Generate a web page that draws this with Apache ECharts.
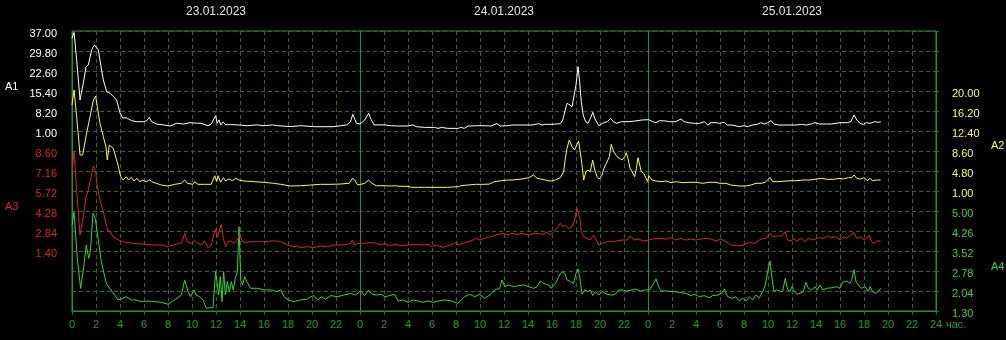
<!DOCTYPE html>
<html><head><meta charset="utf-8">
<script src="https://cdn.jsdelivr.net/npm/echarts@6/dist/echarts.min.js"></script>
<style>html,body{margin:0;padding:0;background:#000;}#c{width:1006px;height:340px;}</style>
</head><body><div id="c"></div>
<script>
// Time in hours from 23.01.2023 00:00
const dates = ['23.01.2023', '24.01.2023', '25.01.2023'];
const seriesNames = ['A1', 'A2', 'A3', 'A4'];

const a1 = [[0,34.4],[0.17,36.5],[0.39,26.6],[0.67,12.2],[0.94,18.2],[1.17,24.1],[1.36,24.8],[1.64,30.2],[1.86,32.0],[2.0,32.6],[2.19,30.2],[2.42,24.1],[2.61,19.4],[2.89,15.1],[3.17,14.6],[3.44,13.4],[3.72,12.2],[4.0,7.5],[4.22,5.7],[4.56,5.7],[4.97,4.7],[5.39,4.35],[5.94,4.35],[6.22,4.7],[6.44,5.9],[6.64,4.35],[7.06,3.5],[7.61,3.2],[8.17,2.8],[8.72,3.8],[9.28,3.5],[9.83,4.0],[10.4,3.8],[10.75,3.8],[11.33,2.9],[11.6,3.5],[11.97,6.5],[12.1,3.8],[12.25,5.0],[12.4,3.2],[12.6,4.3],[12.8,3.2],[13.2,3.3],[13.8,3.2],[14.6,2.9],[15.4,3.2],[16.0,2.9],[16.7,3.2],[16.85,3.8],[17.1,2.9],[18.2,2.6],[19.1,2.9],[20.2,2.55],[21,2.55],[21.8,2.55],[22.4,2.9],[22.9,3.2],[23.2,4.3],[23.4,7.0],[23.7,3.8],[24.0,3.5],[24.1,3.8],[24.4,5.0],[24.72,7.4],[24.94,5.0],[25.17,3.2],[25.5,3.2],[26.06,3.2],[26.6,2.9],[27.2,2.8],[28,2.8],[28.4,3.2],[28.7,2.55],[29.4,2.3],[30.2,2.3],[30.5,1.95],[30.8,2.3],[31.3,1.95],[32.2,1.95],[32.4,2.3],[32.7,1.95],[33,2.8],[33.8,2.9],[34.4,2.9],[34.9,2.8],[35.4,3.65],[35.7,2.8],[36.3,2.9],[36.67,3.16],[37.5,3.16],[38.33,3.16],[38.9,3.64],[39.17,3.16],[39.44,3.4],[40,3.4],[40.7,3.64],[40.9,4.96],[41.1,8.56],[41.25,10.96],[41.5,10.36],[41.67,9.76],[42,17.56],[42.17,24.16],[42.3,18.76],[42.44,11.56],[42.6,6.76],[42.8,4.36],[43,3.76],[43.2,5.56],[43.4,7.72],[43.56,5.56],[43.9,2.92],[44.2,3.76],[44.6,4.36],[44.9,5.56],[45.1,4.36],[45.4,3.76],[45.8,4.36],[46.4,4.36],[46.9,4.6],[47.5,4.96],[48.06,5.08],[48.1,5.2],[48.4,4.36],[48.67,4.0],[48.94,4.72],[49.5,4.6],[49.8,4.36],[50.3,4.36],[50.75,5.32],[51,4.36],[51.4,4.0],[51.86,3.76],[52.3,3.76],[52.7,4.36],[52.97,3.16],[53.25,4.0],[53.67,4.0],[53.9,3.76],[54.36,4.12],[54.6,3.16],[55,3.16],[55.6,2.56],[56,2.92],[56.3,2.56],[56.7,3.16],[57.1,3.4],[57.4,4.0],[57.7,3.52],[57.97,4.0],[58.25,4.72],[58.5,3.52],[58.9,3.16],[60.3,3.16],[60.8,3.4],[61.2,3.16],[61.6,3.52],[61.9,4.0],[62.3,3.52],[62.9,3.52],[63.3,3.52],[64,4.0],[64.6,4.0],[64.9,4.36],[65.17,6.76],[65.4,4.96],[65.67,3.76],[65.94,3.4],[66.2,4.0],[66.5,3.76],[66.9,4.36],[67.2,4.12],[67.4,4.36]];

const a2 = [[0,17.34],[0.17,20.2],[0.39,15.1],[0.67,7.84],[0.89,7.84],[1.22,12.0],[1.5,15.1],[1.78,18.3],[1.97,19.05],[2.11,17.0],[2.33,13.86],[2.61,11.3],[2.83,9.4],[2.94,6.9],[3.11,9.74],[3.25,9.74],[3.44,9.1],[3.56,8.16],[3.83,5.94],[4.06,3.72],[4.25,3.09],[4.53,3.72],[4.72,3.09],[4.94,3.6],[5.17,2.9],[5.42,3.41],[5.64,2.77],[5.92,3.09],[6.19,2.77],[6.47,3.09],[6.75,2.65],[7.03,2.46],[7.44,2.14],[8.0,1.95],[8.56,2.27],[9.11,2.46],[9.39,3.09],[9.61,2.46],[10.08,2.27],[10.22,2.77],[10.5,2.27],[11.06,2.27],[11.6,2.27],[11.9,3.9],[12.05,2.8],[12.17,3.9],[12.39,2.65],[12.61,3.53],[12.8,2.9],[13.08,3.28],[13.36,2.96],[13.64,3.41],[13.9,3.09],[14.33,2.9],[15.17,2.77],[16,2.65],[16.8,2.46],[17.4,2.27],[18.2,1.95],[19.06,2.0],[19.9,2.14],[20.7,2.27],[21.6,2.27],[22.4,2.33],[23.1,2.46],[23.36,3.41],[23.56,3.09],[23.8,2.14],[24.06,2.27],[24.4,2.46],[24.72,3.09],[25,2.46],[25.36,2.0],[26.06,2.0],[26.6,1.95],[26.9,2.0],[27.4,1.89],[28,1.89],[28.3,1.7],[28.8,1.7],[29.4,1.7],[30.5,1.7],[31.3,1.7],[32.2,1.82],[32.4,2.0],[33,2.14],[33.6,2.27],[34.4,2.27],[34.8,2.33],[35.2,2.77],[35.8,2.96],[36.33,3.09],[36.67,3.09],[37.5,3.28],[38.06,3.53],[38.47,4.04],[38.75,3.41],[39.03,3.28],[39.44,3.09],[39.86,2.9],[40.28,3.09],[40.69,3.53],[40.97,4.67],[41.11,7.21],[41.25,9.11],[41.44,10.69],[41.67,9.42],[41.89,8.79],[42.06,9.74],[42.22,10.5],[42.39,7.84],[42.5,5.94],[42.64,3.09],[42.83,4.67],[43,4.99],[43.19,4.67],[43.39,6.89],[43.56,4.99],[43.75,3.72],[43.94,3.28],[44.17,4.04],[44.33,5.31],[44.53,6.26],[44.67,5.94],[44.78,7.52],[44.94,9.87],[45.14,8.47],[45.42,7.52],[45.83,6.89],[46.06,7.52],[46.19,8.28],[46.33,7.21],[46.5,5.31],[46.67,4.67],[46.89,3.72],[47.03,5.31],[47.17,7.33],[47.31,5.94],[47.44,4.67],[47.64,4.36],[47.78,4.04],[47.97,2.77],[48.06,3.91],[48.33,3.09],[48.67,2.9],[49.08,2.77],[49.5,2.9],[49.92,2.58],[50.33,2.77],[50.89,2.58],[51.44,2.65],[52,2.65],[52.56,2.46],[53.1,2.65],[53.67,2.65],[53.94,2.46],[54.5,2.46],[54.9,2.14],[55.6,1.95],[56.17,1.95],[56.58,2.14],[57,2.46],[57.42,2.46],[57.78,2.65],[57.97,3.09],[58.17,3.6],[58.39,2.77],[58.8,2.77],[59.5,2.9],[60.33,2.96],[60.94,3.09],[61.5,3.09],[62.06,3.28],[62.47,3.41],[62.89,3.22],[63.44,3.22],[64,3.41],[64.28,3.28],[64.69,3.53],[64.97,3.53],[65.17,4.04],[65.39,3.41],[65.72,3.28],[66,3.53],[66.28,2.96],[66.5,3.41],[66.72,2.96],[67.06,3.09],[67.39,3.09]];

const a3 = [[0,7.11],[0.17,8.55],[0.39,5.79],[0.67,2.55],[0.94,3.87],[1.17,5.31],[1.36,5.79],[1.64,6.99],[1.78,7.52],[1.97,7.11],[2.11,6.03],[2.33,5.07],[2.61,4.23],[2.83,3.39],[2.97,2.91],[3.17,2.79],[3.44,2.43],[3.86,2.19],[4.28,2.07],[5.1,1.95],[5.94,1.9],[6.78,1.83],[7.6,1.83],[7.9,1.71],[8.44,1.83],[9.14,2.0],[9.39,2.67],[9.61,2.07],[9.94,1.95],[10.22,2.19],[10.5,1.95],[10.78,1.83],[11.06,2.12],[11.33,1.64],[11.61,1.83],[11.83,2.67],[11.97,2.98],[12.1,2.4],[12.17,2.31],[12.33,3.03],[12.44,3.32],[12.61,2.31],[12.8,1.71],[13,2.07],[13.22,2.12],[13.5,1.95],[13.78,2.19],[14,2.6],[14.19,2.07],[14.47,2.02],[14.89,2.07],[15.44,2.07],[16,2.07],[16.56,2.12],[17.1,2.12],[17.39,2.07],[17.67,1.95],[17.94,1.83],[18.5,1.71],[18.78,1.76],[19.06,1.64],[19.6,1.71],[20.17,1.64],[20.7,1.76],[21.28,1.71],[21.83,1.83],[22.39,1.83],[22.94,1.88],[23.22,1.95],[23.36,2.19],[23.56,1.83],[23.78,1.95],[24.06,1.95],[24.39,1.95],[24.94,2.02],[25.36,1.95],[25.78,1.83],[26.06,1.95],[26.47,1.76],[26.89,1.88],[27.44,1.78],[28,1.83],[28.56,1.88],[29.1,1.83],[29.67,1.88],[29.94,1.71],[30.36,1.83],[30.92,1.66],[31.33,1.78],[31.75,1.88],[32.03,2.07],[32.17,1.83],[32.58,1.95],[33,2.07],[33.42,2.19],[33.7,2.31],[33.97,2.19],[34.39,2.31],[34.94,2.43],[35.5,2.6],[36.06,2.67],[36.25,2.55],[36.67,2.67],[37.08,2.6],[37.5,2.67],[38.06,2.55],[38.61,2.67],[39.17,2.6],[39.58,2.74],[39.86,2.55],[40.14,2.79],[40.42,3.03],[40.69,3.39],[40.89,3.15],[41.11,3.27],[41.39,3.03],[41.67,3.15],[41.89,3.63],[42.08,4.47],[42.22,4.52],[42.33,3.75],[42.44,2.79],[42.64,2.43],[42.92,2.31],[43.19,2.19],[43.47,2.55],[43.67,2.19],[43.89,1.83],[44.17,1.95],[44.58,2.07],[45,2.07],[45.42,2.12],[45.83,2.19],[46.25,2.19],[46.53,2.5],[46.81,2.19],[47.22,2.26],[47.64,2.12],[48.06,2.19],[48.39,2.26],[48.94,2.31],[49.5,2.26],[49.92,2.36],[50.33,2.19],[50.75,2.31],[51.17,2.19],[51.58,2.26],[52,2.19],[52.42,2.26],[52.83,2.31],[53.25,2.26],[53.67,2.12],[54.08,2.26],[54.5,2.07],[54.92,1.83],[55.33,1.78],[55.75,1.78],[56.03,1.88],[56.44,2.02],[56.86,1.95],[57.28,2.19],[57.56,2.31],[57.83,2.31],[58.17,2.67],[58.39,2.43],[58.81,2.5],[59.08,2.43],[59.44,2.79],[59.64,2.19],[59.92,2.12],[60.1,2.31],[60.39,2.12],[60.8,2.31],[61.08,2.07],[61.36,2.31],[61.78,2.19],[62.2,2.36],[62.6,2.31],[63.03,2.5],[63.3,2.36],[63.72,2.43],[64,2.19],[64.28,2.43],[64.56,2.31],[64.89,2.55],[65.17,2.74],[65.39,2.31],[65.67,2.43],[66,2.19],[66.22,2.31],[66.44,2.55],[66.64,2.07],[66.83,1.95],[67.1,2.12],[67.39,2.12]];

const a4 = [[0,4.48],[0.17,4.95],[0.44,3.25],[0.72,2.14],[1.0,3.0],[1.19,3.74],[1.39,3.25],[1.53,3.5],[1.75,4.91],[1.94,4.73],[2.17,3.99],[2.44,3.13],[2.86,2.32],[3.14,2.14],[3.56,1.89],[3.83,1.71],[4.11,1.74],[4.53,1.83],[4.94,1.71],[5.22,1.71],[5.78,1.65],[6.33,1.67],[6.89,1.65],[7.44,1.62],[8.0,1.55],[8.56,1.71],[9.11,1.89],[9.39,2.45],[9.67,2.02],[9.89,1.83],[10.17,2.08],[10.36,1.89],[10.64,1.83],[10.92,1.71],[11.19,1.4],[11.47,1.42],[11.75,1.42],[11.97,2.76],[12.08,2.69],[12.22,1.89],[12.36,2.57],[12.5,1.65],[12.64,2.76],[12.78,1.89],[12.94,2.39],[13.11,2.02],[13.28,2.39],[13.44,2.08],[13.61,2.51],[13.78,2.76],[13.92,4.42],[14.06,2.45],[14.22,2.26],[14.39,2.57],[14.56,2.39],[14.89,2.14],[15.44,2.14],[16,2.08],[16.56,2.08],[17.1,2.02],[17.39,2.08],[17.67,1.83],[18,1.71],[18.5,1.65],[19.06,1.71],[19.6,1.74],[19.9,1.83],[20.17,1.87],[20.5,1.71],[20.78,1.83],[21.14,1.74],[21.56,1.87],[22.1,1.83],[22.67,1.89],[23.22,1.95],[23.64,1.89],[24.06,2.04],[24.39,1.87],[24.72,2.08],[25,1.92],[25.36,1.89],[25.78,1.92],[26.06,1.83],[26.47,1.87],[26.89,1.92],[27.17,1.67],[27.58,1.71],[28,1.62],[28.42,1.71],[28.83,1.67],[29.25,1.62],[29.67,1.67],[30.08,1.62],[30.5,1.67],[31.06,1.71],[31.61,1.67],[32.17,1.58],[32.44,1.71],[32.72,1.83],[33.14,1.92],[33.56,1.83],[33.97,1.92],[34.39,1.77],[34.81,1.89],[35.22,2.08],[35.64,2.14],[35.83,2.45],[36.06,2.2],[36.39,2.26],[36.8,2.2],[37.22,2.24],[37.64,2.26],[38.06,2.2],[38.47,2.14],[38.75,2.2],[39.03,2.41],[39.31,2.32],[39.72,2.26],[39.94,2.14],[40.28,2.32],[40.56,2.57],[40.83,2.76],[41.06,2.69],[41.25,2.45],[41.53,2.39],[41.8,2.32],[42,2.69],[42.17,2.85],[42.33,2.51],[42.5,1.92],[42.72,2.08],[43,2.02],[43.19,2.08],[43.39,1.87],[43.6,2.02],[43.89,1.89],[44.17,2.02],[44.58,1.92],[45,1.89],[45.28,1.92],[45.56,2.08],[45.83,2.08],[46.25,2.04],[46.67,2.08],[46.94,2.11],[47.36,2.04],[47.78,2.08],[48.1,2.08],[48.39,2.26],[48.67,2.48],[48.89,2.2],[49.08,2.04],[49.5,2.04],[50.06,2.02],[50.6,1.99],[51.17,1.95],[51.58,1.87],[51.86,1.92],[52.28,1.83],[52.7,1.87],[53.1,1.79],[53.39,1.87],[53.8,1.89],[54.08,1.95],[54.36,2.11],[54.64,1.83],[55.06,1.77],[55.33,1.83],[55.6,1.67],[55.89,1.77],[56.17,1.67],[56.44,1.83],[56.72,1.71],[57,1.89],[57.28,1.79],[57.56,2.02],[57.78,2.26],[57.97,2.76],[58.17,3.15],[58.33,2.51],[58.5,2.02],[58.72,2.08],[58.94,2.04],[59.22,2.02],[59.44,2.51],[59.64,2.08],[59.83,2.02],[60,2.2],[60.19,2.02],[60.39,1.92],[60.67,1.95],[60.94,2.02],[61.17,2.36],[61.36,2.14],[61.64,2.08],[61.92,2.2],[62.1,2.08],[62.33,2.26],[62.56,2.08],[62.89,2.14],[63.3,2.16],[63.72,2.2],[64,2.14],[64.22,2.36],[64.56,2.41],[64.83,2.32],[64.97,2.45],[65.17,2.82],[65.33,2.39],[65.53,2.26],[65.8,2.14],[66.08,2.2],[66.36,2.02],[66.5,2.2],[66.72,2.02],[67,1.95],[67.19,2.02],[67.39,2.14]];

// axis scales: [min, max, interval, labelLow, labelHigh]
const scaleA1 = [-63.8, 37, 7.2, 1.0, 37.0];
const scaleA2 = [-21.8, 31.4, 3.8, 1.0, 20.0];
const scaleA3 = [-2.92, 17.24, 1.44, 1.4, 8.6];
const scaleA4 = [1.3, 11.66, 0.74, 1.3, 5.0];

const FONT = "'Liberation Sans', Arial, sans-serif";
const C_WHITE = '#ffffff', C_YEL = '#ffff30', C_RED = '#e02020', C_GRN = '#30d830';
const C_GRID = '#1f6f1f', C_BORDER = '#2e8e2e', C_XLBL = '#22a022';

function yAxisFor(sc, pos, color, grid) {
  return {
    type: 'value', position: pos, min: sc[0], max: sc[1], interval: sc[2],
    axisLine: { show: false, onZero: false },
    axisTick: { show: pos === 'right' && grid, length: 5, lineStyle: { color: C_GRID, type: [3, 2] } },
    splitLine: { show: grid, lineStyle: { color: C_GRID, type: [4, 3], width: 1 } },
    axisLabel: {
      color: color, fontSize: 11, fontFamily: FONT, margin: pos === 'left' ? 15 : 16,
      verticalAlign: 'top', lineHeight: 5,
      formatter: v => (v >= sc[3] - 1e-6 && v <= sc[4] + 1e-6) ? v.toFixed(2) : ''
    }
  };
}

const chart = echarts.init(document.getElementById('c'), null, { renderer: 'canvas' });
chart.setOption({
  backgroundColor: '#000',
  animation: false,
  grid: { left: 72, top: 31, width: 864, height: 280, show: true, borderColor: C_BORDER, borderWidth: 1, backgroundColor: 'transparent' },
  xAxis: [
    {
      type: 'value', min: 0, max: 72, interval: 2, position: 'bottom',
      axisLine: { show: true, onZero: false, lineStyle: { color: C_BORDER } },
      axisTick: { show: true, length: 4, lineStyle: { color: C_GRID } },
      splitLine: { show: true, lineStyle: { color: C_GRID, type: [4, 3] } },
      axisLabel: { color: C_XLBL, fontSize: 11, fontFamily: FONT, margin: 8,
        formatter: v => v === 72 ? '24' : String(v % 24) }
    },
    {
      type: 'value', min: 0, max: 72, interval: 12, position: 'top',
      axisLine: { show: false, onZero: false }, axisTick: { show: false }, splitLine: { show: false },
      axisLabel: { color: '#e0e0e0', fontSize: 12, fontFamily: FONT, margin: 13,
        formatter: v => (v % 24 === 12) ? dates[(v - 12) / 24] : '' }
    },
    {
      type: 'value', min: 0, max: 72, interval: 24, position: 'bottom',
      axisLine: { show: false, onZero: false }, axisTick: { show: false }, axisLabel: { show: false },
      splitLine: { show: true, lineStyle: { color: C_BORDER, type: 'solid' } }
    }
  ],
  yAxis: [
    yAxisFor(scaleA1, 'left', C_WHITE, true),
    yAxisFor(scaleA3, 'left', C_RED, false),
    yAxisFor(scaleA2, 'right', C_YEL, false),
    yAxisFor(scaleA4, 'right', C_GRN, true)
  ],
  graphic: [
    { type: 'text', left: 5, top: 81, style: { text: seriesNames[0], fill: C_WHITE, font: '11px ' + FONT } },
    { type: 'text', left: 5, top: 201, style: { text: seriesNames[2], fill: C_RED, font: '11px ' + FONT } },
    { type: 'text', left: 991, top: 140, style: { text: seriesNames[1], fill: C_YEL, font: '11px ' + FONT } },
    { type: 'text', left: 991, top: 261, style: { text: seriesNames[3], fill: C_GRN, font: '11px ' + FONT } },
    { type: 'text', left: 946, top: 319, style: { text: 'час.', fill: C_XLBL, font: '11px ' + FONT } }
  ],
  series: [
    { name: 'A4', type: 'line', data: a4, xAxisIndex: 0, yAxisIndex: 3, showSymbol: false, symbol: 'none', lineStyle: { color: C_GRN, width: 1 } },
    { name: 'A3', type: 'line', data: a3, xAxisIndex: 0, yAxisIndex: 1, showSymbol: false, symbol: 'none', lineStyle: { color: C_RED, width: 1 } },
    { name: 'A2', type: 'line', data: a2, xAxisIndex: 0, yAxisIndex: 2, showSymbol: false, symbol: 'none', lineStyle: { color: C_YEL, width: 1 } },
    { name: 'A1', type: 'line', data: a1, xAxisIndex: 0, yAxisIndex: 0, showSymbol: false, symbol: 'none', lineStyle: { color: C_WHITE, width: 1 } }
  ]
});
</script></body></html>
